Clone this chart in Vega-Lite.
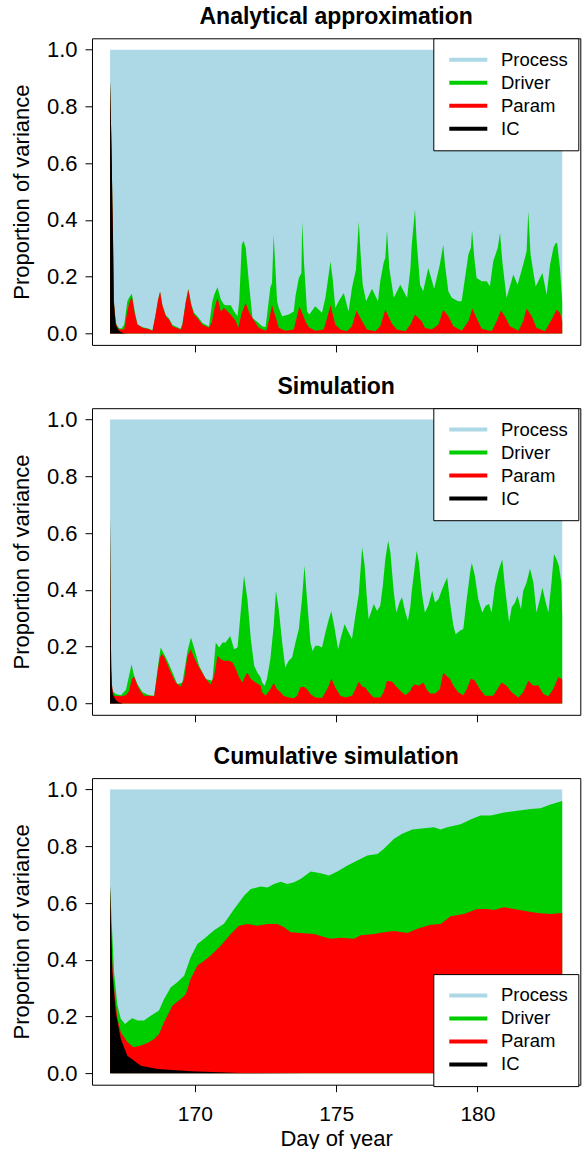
{
"$schema":"https://vega.github.io/schema/vega-lite/v6.json",
"padding":{"left":9,"top":5.3,"right":1,"bottom":1},
"background":"white",
"config":{
"font":"Liberation Sans",
"view":{"stroke":"black","strokeWidth":1},
"axis":{"domain":false,"grid":false,"tickColor":"black","tickSize":7,"tickWidth":1,"labelColor":"black","labelFont":"Liberation Sans","labelFontSize":22,"titleFont":"Liberation Sans","titleFontSize":22,"titleFontWeight":"normal","titleColor":"black"},
"title":{"font":"Liberation Sans","fontSize":23,"fontWeight":"bold","color":"black","anchor":"middle","frame":"group","baseline":"alphabetic","offset":9},
"legend":{"title":null,"orient":"none","symbolType":"stroke","symbolSize":1444,"symbolStrokeWidth":4,"clipHeight":22.7,"rowPadding":0,"padding":10,"symbolOffset":4,"labelOffset":11.7,"labelFont":"Liberation Sans","labelFontSize":18.5,"labelColor":"black","strokeColor":"black","fillColor":"white"}
},
"datasets":{
"p1":[
{"d":167,"s":"Process","v":1},{"d":183,"s":"Process","v":1},
{"d":167.00,"s":"Driver","v":0.89},{"d":167.03,"s":"Driver","v":0.75},{"d":167.06,"s":"Driver","v":0.60},{"d":167.08,"s":"Driver","v":0.46},{"d":167.10,"s":"Driver","v":0.37},{"d":167.13,"s":"Driver","v":0.12},{"d":167.20,"s":"Driver","v":0.038},{"d":167.30,"s":"Driver","v":0.020},{"d":167.40,"s":"Driver","v":0.017},{"d":167.50,"s":"Driver","v":0.032},{"d":167.61,"s":"Driver","v":0.114},{"d":167.67,"s":"Driver","v":0.126},{"d":167.77,"s":"Driver","v":0.140},{"d":167.87,"s":"Driver","v":0.080},{"d":167.97,"s":"Driver","v":0.032},{"d":168.15,"s":"Driver","v":0.022},{"d":168.35,"s":"Driver","v":0.018},{"d":168.50,"s":"Driver","v":0.012},{"d":168.60,"s":"Driver","v":0.060},{"d":168.70,"s":"Driver","v":0.120},{"d":168.77,"s":"Driver","v":0.147},{"d":168.85,"s":"Driver","v":0.100},{"d":168.97,"s":"Driver","v":0.065},{"d":169.09,"s":"Driver","v":0.052},{"d":169.21,"s":"Driver","v":0.030},{"d":169.50,"s":"Driver","v":0.017},{"d":169.56,"s":"Driver","v":0.035},{"d":169.68,"s":"Driver","v":0.115},{"d":169.77,"s":"Driver","v":0.158},{"d":169.87,"s":"Driver","v":0.105},{"d":169.97,"s":"Driver","v":0.073},{"d":170.09,"s":"Driver","v":0.061},{"d":170.27,"s":"Driver","v":0.037},{"d":170.50,"s":"Driver","v":0.025},{"d":170.62,"s":"Driver","v":0.114},{"d":170.70,"s":"Driver","v":0.140},{"d":170.80,"s":"Driver","v":0.163},{"d":170.92,"s":"Driver","v":0.120},{"d":171.03,"s":"Driver","v":0.102},{"d":171.09,"s":"Driver","v":0.100},{"d":171.27,"s":"Driver","v":0.100},{"d":171.39,"s":"Driver","v":0.078},{"d":171.51,"s":"Driver","v":0.061},{"d":171.57,"s":"Driver","v":0.114},{"d":171.66,"s":"Driver","v":0.313},{"d":171.72,"s":"Driver","v":0.327},{"d":171.80,"s":"Driver","v":0.302},{"d":171.92,"s":"Driver","v":0.172},{"d":172.04,"s":"Driver","v":0.055},{"d":172.26,"s":"Driver","v":0.037},{"d":172.38,"s":"Driver","v":0.026},{"d":172.50,"s":"Driver","v":0.022},{"d":172.55,"s":"Driver","v":0.061},{"d":172.67,"s":"Driver","v":0.161},{"d":172.73,"s":"Driver","v":0.178},{"d":172.79,"s":"Driver","v":0.348},{"d":172.85,"s":"Driver","v":0.231},{"d":172.91,"s":"Driver","v":0.114},{"d":172.97,"s":"Driver","v":0.090},{"d":173.09,"s":"Driver","v":0.061},{"d":173.32,"s":"Driver","v":0.067},{"d":173.50,"s":"Driver","v":0.078},{"d":173.56,"s":"Driver","v":0.131},{"d":173.68,"s":"Driver","v":0.196},{"d":173.77,"s":"Driver","v":0.213},{"d":173.80,"s":"Driver","v":0.395},{"d":173.86,"s":"Driver","v":0.254},{"d":173.97,"s":"Driver","v":0.078},{"d":174.05,"s":"Driver","v":0.067},{"d":174.26,"s":"Driver","v":0.096},{"d":174.50,"s":"Driver","v":0.073},{"d":174.62,"s":"Driver","v":0.126},{"d":174.71,"s":"Driver","v":0.190},{"d":174.80,"s":"Driver","v":0.254},{"d":174.88,"s":"Driver","v":0.190},{"d":174.97,"s":"Driver","v":0.090},{"d":175.09,"s":"Driver","v":0.114},{"d":175.27,"s":"Driver","v":0.143},{"d":175.44,"s":"Driver","v":0.078},{"d":175.56,"s":"Driver","v":0.161},{"d":175.70,"s":"Driver","v":0.225},{"d":175.80,"s":"Driver","v":0.395},{"d":175.86,"s":"Driver","v":0.290},{"d":175.94,"s":"Driver","v":0.172},{"d":176.06,"s":"Driver","v":0.114},{"d":176.27,"s":"Driver","v":0.158},{"d":176.48,"s":"Driver","v":0.114},{"d":176.56,"s":"Driver","v":0.184},{"d":176.68,"s":"Driver","v":0.249},{"d":176.74,"s":"Driver","v":0.266},{"d":176.80,"s":"Driver","v":0.363},{"d":176.88,"s":"Driver","v":0.231},{"d":177.04,"s":"Driver","v":0.126},{"d":177.27,"s":"Driver","v":0.172},{"d":177.51,"s":"Driver","v":0.126},{"d":177.63,"s":"Driver","v":0.231},{"d":177.67,"s":"Driver","v":0.307},{"d":177.79,"s":"Driver","v":0.437},{"d":177.85,"s":"Driver","v":0.325},{"d":177.97,"s":"Driver","v":0.172},{"d":178.08,"s":"Driver","v":0.149},{"d":178.26,"s":"Driver","v":0.231},{"d":178.47,"s":"Driver","v":0.158},{"d":178.67,"s":"Driver","v":0.243},{"d":178.79,"s":"Driver","v":0.313},{"d":178.85,"s":"Driver","v":0.243},{"d":178.97,"s":"Driver","v":0.149},{"d":179.09,"s":"Driver","v":0.126},{"d":179.32,"s":"Driver","v":0.114},{"d":179.44,"s":"Driver","v":0.114},{"d":179.56,"s":"Driver","v":0.196},{"d":179.68,"s":"Driver","v":0.278},{"d":179.77,"s":"Driver","v":0.302},{"d":179.81,"s":"Driver","v":0.363},{"d":179.89,"s":"Driver","v":0.266},{"d":179.97,"s":"Driver","v":0.196},{"d":180.15,"s":"Driver","v":0.184},{"d":180.33,"s":"Driver","v":0.184},{"d":180.44,"s":"Driver","v":0.167},{"d":180.56,"s":"Driver","v":0.255},{"d":180.72,"s":"Driver","v":0.302},{"d":180.80,"s":"Driver","v":0.354},{"d":180.88,"s":"Driver","v":0.255},{"d":181.03,"s":"Driver","v":0.125},{"d":181.27,"s":"Driver","v":0.208},{"d":181.42,"s":"Driver","v":0.172},{"d":181.62,"s":"Driver","v":0.243},{"d":181.74,"s":"Driver","v":0.290},{"d":181.80,"s":"Driver","v":0.431},{"d":181.88,"s":"Driver","v":0.278},{"d":182.06,"s":"Driver","v":0.166},{"d":182.30,"s":"Driver","v":0.213},{"d":182.45,"s":"Driver","v":0.137},{"d":182.57,"s":"Driver","v":0.243},{"d":182.69,"s":"Driver","v":0.302},{"d":182.77,"s":"Driver","v":0.319},{"d":182.82,"s":"Driver","v":0.319},{"d":182.92,"s":"Driver","v":0.231},{"d":183.00,"s":"Driver","v":0.114},
{"d":167.00,"s":"Param","v":0.89},{"d":167.03,"s":"Param","v":0.75},{"d":167.06,"s":"Param","v":0.60},{"d":167.08,"s":"Param","v":0.46},{"d":167.10,"s":"Param","v":0.37},{"d":167.13,"s":"Param","v":0.12},{"d":167.20,"s":"Param","v":0.035},{"d":167.30,"s":"Param","v":0.016},{"d":167.40,"s":"Param","v":0.014},{"d":167.50,"s":"Param","v":0.015},{"d":167.61,"s":"Param","v":0.078},{"d":167.67,"s":"Param","v":0.105},{"d":167.77,"s":"Param","v":0.131},{"d":167.87,"s":"Param","v":0.070},{"d":167.97,"s":"Param","v":0.032},{"d":168.15,"s":"Param","v":0.020},{"d":168.35,"s":"Param","v":0.016},{"d":168.50,"s":"Param","v":0.010},{"d":168.60,"s":"Param","v":0.060},{"d":168.70,"s":"Param","v":0.120},{"d":168.77,"s":"Param","v":0.147},{"d":168.85,"s":"Param","v":0.100},{"d":168.97,"s":"Param","v":0.061},{"d":169.09,"s":"Param","v":0.049},{"d":169.21,"s":"Param","v":0.026},{"d":169.50,"s":"Param","v":0.014},{"d":169.56,"s":"Param","v":0.030},{"d":169.68,"s":"Param","v":0.110},{"d":169.77,"s":"Param","v":0.155},{"d":169.87,"s":"Param","v":0.100},{"d":169.97,"s":"Param","v":0.067},{"d":170.09,"s":"Param","v":0.055},{"d":170.27,"s":"Param","v":0.031},{"d":170.50,"s":"Param","v":0.020},{"d":170.60,"s":"Param","v":0.040},{"d":170.70,"s":"Param","v":0.090},{"d":170.80,"s":"Param","v":0.126},{"d":170.92,"s":"Param","v":0.078},{"d":171.03,"s":"Param","v":0.090},{"d":171.09,"s":"Param","v":0.085},{"d":171.27,"s":"Param","v":0.067},{"d":171.45,"s":"Param","v":0.043},{"d":171.54,"s":"Param","v":0.020},{"d":171.65,"s":"Param","v":0.070},{"d":171.80,"s":"Param","v":0.108},{"d":171.92,"s":"Param","v":0.075},{"d":172.04,"s":"Param","v":0.055},{"d":172.26,"s":"Param","v":0.020},{"d":172.50,"s":"Param","v":0.010},{"d":172.55,"s":"Param","v":0.015},{"d":172.64,"s":"Param","v":0.055},{"d":172.73,"s":"Param","v":0.100},{"d":172.85,"s":"Param","v":0.061},{"d":172.97,"s":"Param","v":0.020},{"d":173.20,"s":"Param","v":0.010},{"d":173.50,"s":"Param","v":0.014},{"d":173.60,"s":"Param","v":0.055},{"d":173.70,"s":"Param","v":0.096},{"d":173.82,"s":"Param","v":0.067},{"d":173.91,"s":"Param","v":0.043},{"d":174.03,"s":"Param","v":0.022},{"d":174.26,"s":"Param","v":0.010},{"d":174.56,"s":"Param","v":0.014},{"d":174.68,"s":"Param","v":0.055},{"d":174.80,"s":"Param","v":0.100},{"d":174.97,"s":"Param","v":0.032},{"d":175.15,"s":"Param","v":0.014},{"d":175.38,"s":"Param","v":0.008},{"d":175.56,"s":"Param","v":0.026},{"d":175.72,"s":"Param","v":0.081},{"d":175.92,"s":"Param","v":0.043},{"d":176.09,"s":"Param","v":0.014},{"d":176.39,"s":"Param","v":0.008},{"d":176.56,"s":"Param","v":0.026},{"d":176.74,"s":"Param","v":0.084},{"d":176.98,"s":"Param","v":0.034},{"d":177.15,"s":"Param","v":0.014},{"d":177.45,"s":"Param","v":0.008},{"d":177.63,"s":"Param","v":0.032},{"d":177.79,"s":"Param","v":0.067},{"d":177.91,"s":"Param","v":0.055},{"d":178.03,"s":"Param","v":0.043},{"d":178.14,"s":"Param","v":0.020},{"d":178.38,"s":"Param","v":0.014},{"d":178.62,"s":"Param","v":0.032},{"d":178.79,"s":"Param","v":0.084},{"d":178.97,"s":"Param","v":0.061},{"d":179.15,"s":"Param","v":0.026},{"d":179.44,"s":"Param","v":0.010},{"d":179.68,"s":"Param","v":0.043},{"d":179.82,"s":"Param","v":0.088},{"d":179.97,"s":"Param","v":0.055},{"d":180.15,"s":"Param","v":0.017},{"d":180.50,"s":"Param","v":0.008},{"d":180.68,"s":"Param","v":0.043},{"d":180.83,"s":"Param","v":0.081},{"d":180.97,"s":"Param","v":0.061},{"d":181.15,"s":"Param","v":0.026},{"d":181.45,"s":"Param","v":0.010},{"d":181.62,"s":"Param","v":0.043},{"d":181.74,"s":"Param","v":0.088},{"d":181.92,"s":"Param","v":0.061},{"d":182.09,"s":"Param","v":0.020},{"d":182.39,"s":"Param","v":0.008},{"d":182.62,"s":"Param","v":0.049},{"d":182.80,"s":"Param","v":0.084},{"d":182.92,"s":"Param","v":0.073},{"d":183.00,"s":"Param","v":0.043},
{"d":167.00,"s":"IC","v":0.89},{"d":167.03,"s":"IC","v":0.75},{"d":167.06,"s":"IC","v":0.60},{"d":167.08,"s":"IC","v":0.46},{"d":167.10,"s":"IC","v":0.36},{"d":167.13,"s":"IC","v":0.11},{"d":167.20,"s":"IC","v":0.03},{"d":167.30,"s":"IC","v":0.012},{"d":167.40,"s":"IC","v":0.004},{"d":167.50,"s":"IC","v":0.001},{"d":167.60,"s":"IC","v":0},{"d":183.00,"s":"IC","v":0}
],
"p2":[
{"d":167,"s":"Process","v":1},{"d":183,"s":"Process","v":1},
{"d":167.00,"s":"Driver","v":0.65},{"d":167.02,"s":"Driver","v":0.30},{"d":167.04,"s":"Driver","v":0.14},{"d":167.06,"s":"Driver","v":0.08},{"d":167.08,"s":"Driver","v":0.045},{"d":167.20,"s":"Driver","v":0.033},{"d":167.38,"s":"Driver","v":0.029},{"d":167.56,"s":"Driver","v":0.047},{"d":167.67,"s":"Driver","v":0.097},{"d":167.76,"s":"Driver","v":0.138},{"d":167.85,"s":"Driver","v":0.097},{"d":167.97,"s":"Driver","v":0.068},{"d":168.15,"s":"Driver","v":0.039},{"d":168.38,"s":"Driver","v":0.029},{"d":168.56,"s":"Driver","v":0.027},{"d":168.68,"s":"Driver","v":0.121},{"d":168.79,"s":"Driver","v":0.197},{"d":168.91,"s":"Driver","v":0.174},{"d":169.03,"s":"Driver","v":0.150},{"d":169.21,"s":"Driver","v":0.109},{"d":169.38,"s":"Driver","v":0.068},{"d":169.56,"s":"Driver","v":0.074},{"d":169.74,"s":"Driver","v":0.185},{"d":169.86,"s":"Driver","v":0.232},{"d":169.97,"s":"Driver","v":0.197},{"d":170.15,"s":"Driver","v":0.133},{"d":170.39,"s":"Driver","v":0.086},{"d":170.62,"s":"Driver","v":0.080},{"d":170.74,"s":"Driver","v":0.215},{"d":170.86,"s":"Driver","v":0.197},{"d":170.98,"s":"Driver","v":0.215},{"d":171.09,"s":"Driver","v":0.215},{"d":171.25,"s":"Driver","v":0.238},{"d":171.39,"s":"Driver","v":0.191},{"d":171.51,"s":"Driver","v":0.197},{"d":171.62,"s":"Driver","v":0.320},{"d":171.74,"s":"Driver","v":0.450},{"d":171.86,"s":"Driver","v":0.368},{"d":171.98,"s":"Driver","v":0.227},{"d":172.10,"s":"Driver","v":0.133},{"d":172.21,"s":"Driver","v":0.109},{"d":172.33,"s":"Driver","v":0.091},{"d":172.38,"s":"Driver","v":0.074},{"d":172.47,"s":"Driver","v":0.062},{"d":172.55,"s":"Driver","v":0.086},{"d":172.67,"s":"Driver","v":0.156},{"d":172.79,"s":"Driver","v":0.273},{"d":172.87,"s":"Driver","v":0.397},{"d":172.97,"s":"Driver","v":0.332},{"d":173.09,"s":"Driver","v":0.215},{"d":173.20,"s":"Driver","v":0.127},{"d":173.32,"s":"Driver","v":0.150},{"d":173.44,"s":"Driver","v":0.162},{"d":173.56,"s":"Driver","v":0.215},{"d":173.68,"s":"Driver","v":0.262},{"d":173.79,"s":"Driver","v":0.367},{"d":173.88,"s":"Driver","v":0.485},{"d":173.97,"s":"Driver","v":0.367},{"d":174.09,"s":"Driver","v":0.215},{"d":174.17,"s":"Driver","v":0.185},{"d":174.26,"s":"Driver","v":0.203},{"d":174.38,"s":"Driver","v":0.203},{"d":174.50,"s":"Driver","v":0.197},{"d":174.62,"s":"Driver","v":0.250},{"d":174.74,"s":"Driver","v":0.297},{"d":174.83,"s":"Driver","v":0.326},{"d":174.95,"s":"Driver","v":0.262},{"d":175.07,"s":"Driver","v":0.191},{"d":175.18,"s":"Driver","v":0.238},{"d":175.30,"s":"Driver","v":0.279},{"d":175.44,"s":"Driver","v":0.250},{"d":175.56,"s":"Driver","v":0.227},{"d":175.68,"s":"Driver","v":0.309},{"d":175.80,"s":"Driver","v":0.385},{"d":175.92,"s":"Driver","v":0.549},{"d":176.01,"s":"Driver","v":0.485},{"d":176.09,"s":"Driver","v":0.367},{"d":176.15,"s":"Driver","v":0.297},{"d":176.27,"s":"Driver","v":0.332},{"d":176.33,"s":"Driver","v":0.350},{"d":176.45,"s":"Driver","v":0.326},{"d":176.56,"s":"Driver","v":0.344},{"d":176.65,"s":"Driver","v":0.414},{"d":176.74,"s":"Driver","v":0.508},{"d":176.84,"s":"Driver","v":0.573},{"d":176.92,"s":"Driver","v":0.532},{"d":177.04,"s":"Driver","v":0.391},{"d":177.13,"s":"Driver","v":0.320},{"d":177.24,"s":"Driver","v":0.356},{"d":177.33,"s":"Driver","v":0.374},{"d":177.45,"s":"Driver","v":0.320},{"d":177.54,"s":"Driver","v":0.291},{"d":177.63,"s":"Driver","v":0.344},{"d":177.67,"s":"Driver","v":0.391},{"d":177.77,"s":"Driver","v":0.473},{"d":177.85,"s":"Driver","v":0.538},{"d":177.93,"s":"Driver","v":0.496},{"d":178.03,"s":"Driver","v":0.391},{"d":178.14,"s":"Driver","v":0.320},{"d":178.26,"s":"Driver","v":0.344},{"d":178.32,"s":"Driver","v":0.367},{"d":178.40,"s":"Driver","v":0.397},{"d":178.50,"s":"Driver","v":0.356},{"d":178.62,"s":"Driver","v":0.367},{"d":178.73,"s":"Driver","v":0.397},{"d":178.85,"s":"Driver","v":0.426},{"d":178.93,"s":"Driver","v":0.444},{"d":179.03,"s":"Driver","v":0.356},{"d":179.15,"s":"Driver","v":0.273},{"d":179.23,"s":"Driver","v":0.244},{"d":179.38,"s":"Driver","v":0.256},{"d":179.50,"s":"Driver","v":0.262},{"d":179.62,"s":"Driver","v":0.367},{"d":179.74,"s":"Driver","v":0.461},{"d":179.80,"s":"Driver","v":0.496},{"d":179.91,"s":"Driver","v":0.450},{"d":180.03,"s":"Driver","v":0.367},{"d":180.17,"s":"Driver","v":0.320},{"d":180.29,"s":"Driver","v":0.344},{"d":180.41,"s":"Driver","v":0.350},{"d":180.50,"s":"Driver","v":0.320},{"d":180.62,"s":"Driver","v":0.414},{"d":180.76,"s":"Driver","v":0.473},{"d":180.88,"s":"Driver","v":0.508},{"d":180.97,"s":"Driver","v":0.414},{"d":181.12,"s":"Driver","v":0.285},{"d":181.21,"s":"Driver","v":0.338},{"d":181.33,"s":"Driver","v":0.356},{"d":181.42,"s":"Driver","v":0.379},{"d":181.54,"s":"Driver","v":0.332},{"d":181.62,"s":"Driver","v":0.397},{"d":181.74,"s":"Driver","v":0.426},{"d":181.86,"s":"Driver","v":0.475},{"d":181.98,"s":"Driver","v":0.426},{"d":182.09,"s":"Driver","v":0.320},{"d":182.21,"s":"Driver","v":0.367},{"d":182.30,"s":"Driver","v":0.408},{"d":182.39,"s":"Driver","v":0.367},{"d":182.51,"s":"Driver","v":0.320},{"d":182.62,"s":"Driver","v":0.426},{"d":182.71,"s":"Driver","v":0.526},{"d":182.80,"s":"Driver","v":0.508},{"d":182.88,"s":"Driver","v":0.485},{"d":182.97,"s":"Driver","v":0.426},{"d":183.00,"s":"Driver","v":0.309},
{"d":167.00,"s":"Param","v":0.65},{"d":167.02,"s":"Param","v":0.30},{"d":167.04,"s":"Param","v":0.12},{"d":167.06,"s":"Param","v":0.07},{"d":167.10,"s":"Param","v":0.040},{"d":167.14,"s":"Param","v":0.027},{"d":167.38,"s":"Param","v":0.025},{"d":167.56,"s":"Param","v":0.029},{"d":167.67,"s":"Param","v":0.044},{"d":167.77,"s":"Param","v":0.086},{"d":167.85,"s":"Param","v":0.095},{"d":167.97,"s":"Param","v":0.062},{"d":168.09,"s":"Param","v":0.041},{"d":168.20,"s":"Param","v":0.027},{"d":168.38,"s":"Param","v":0.027},{"d":168.56,"s":"Param","v":0.025},{"d":168.68,"s":"Param","v":0.109},{"d":168.76,"s":"Param","v":0.162},{"d":168.83,"s":"Param","v":0.174},{"d":168.91,"s":"Param","v":0.165},{"d":169.03,"s":"Param","v":0.138},{"d":169.15,"s":"Param","v":0.109},{"d":169.32,"s":"Param","v":0.074},{"d":169.50,"s":"Param","v":0.060},{"d":169.62,"s":"Param","v":0.086},{"d":169.74,"s":"Param","v":0.168},{"d":169.86,"s":"Param","v":0.191},{"d":169.97,"s":"Param","v":0.162},{"d":170.15,"s":"Param","v":0.127},{"d":170.39,"s":"Param","v":0.086},{"d":170.56,"s":"Param","v":0.068},{"d":170.68,"s":"Param","v":0.097},{"d":170.80,"s":"Param","v":0.168},{"d":170.92,"s":"Param","v":0.156},{"d":171.03,"s":"Param","v":0.150},{"d":171.21,"s":"Param","v":0.150},{"d":171.33,"s":"Param","v":0.144},{"d":171.45,"s":"Param","v":0.121},{"d":171.57,"s":"Param","v":0.091},{"d":171.68,"s":"Param","v":0.074},{"d":171.78,"s":"Param","v":0.097},{"d":171.86,"s":"Param","v":0.109},{"d":171.98,"s":"Param","v":0.086},{"d":172.15,"s":"Param","v":0.074},{"d":172.33,"s":"Param","v":0.062},{"d":172.38,"s":"Param","v":0.039},{"d":172.50,"s":"Param","v":0.027},{"d":172.67,"s":"Param","v":0.050},{"d":172.79,"s":"Param","v":0.072},{"d":172.91,"s":"Param","v":0.050},{"d":173.03,"s":"Param","v":0.039},{"d":173.14,"s":"Param","v":0.027},{"d":173.32,"s":"Param","v":0.021},{"d":173.50,"s":"Param","v":0.018},{"d":173.62,"s":"Param","v":0.027},{"d":173.73,"s":"Param","v":0.056},{"d":173.85,"s":"Param","v":0.060},{"d":173.97,"s":"Param","v":0.050},{"d":174.09,"s":"Param","v":0.033},{"d":174.26,"s":"Param","v":0.021},{"d":174.50,"s":"Param","v":0.019},{"d":174.62,"s":"Param","v":0.039},{"d":174.74,"s":"Param","v":0.062},{"d":174.83,"s":"Param","v":0.088},{"d":174.97,"s":"Param","v":0.056},{"d":175.15,"s":"Param","v":0.027},{"d":175.33,"s":"Param","v":0.021},{"d":175.56,"s":"Param","v":0.027},{"d":175.68,"s":"Param","v":0.050},{"d":175.80,"s":"Param","v":0.076},{"d":175.92,"s":"Param","v":0.060},{"d":176.03,"s":"Param","v":0.056},{"d":176.15,"s":"Param","v":0.039},{"d":176.33,"s":"Param","v":0.021},{"d":176.56,"s":"Param","v":0.021},{"d":176.68,"s":"Param","v":0.039},{"d":176.80,"s":"Param","v":0.080},{"d":176.98,"s":"Param","v":0.076},{"d":177.10,"s":"Param","v":0.062},{"d":177.27,"s":"Param","v":0.045},{"d":177.45,"s":"Param","v":0.029},{"d":177.63,"s":"Param","v":0.045},{"d":177.67,"s":"Param","v":0.056},{"d":177.79,"s":"Param","v":0.068},{"d":177.91,"s":"Param","v":0.062},{"d":178.09,"s":"Param","v":0.074},{"d":178.20,"s":"Param","v":0.050},{"d":178.32,"s":"Param","v":0.035},{"d":178.50,"s":"Param","v":0.035},{"d":178.67,"s":"Param","v":0.050},{"d":178.79,"s":"Param","v":0.109},{"d":178.91,"s":"Param","v":0.097},{"d":179.03,"s":"Param","v":0.086},{"d":179.15,"s":"Param","v":0.062},{"d":179.32,"s":"Param","v":0.039},{"d":179.50,"s":"Param","v":0.029},{"d":179.62,"s":"Param","v":0.050},{"d":179.77,"s":"Param","v":0.088},{"d":179.91,"s":"Param","v":0.080},{"d":180.09,"s":"Param","v":0.050},{"d":180.27,"s":"Param","v":0.027},{"d":180.56,"s":"Param","v":0.027},{"d":180.74,"s":"Param","v":0.056},{"d":180.86,"s":"Param","v":0.074},{"d":181.03,"s":"Param","v":0.062},{"d":181.21,"s":"Param","v":0.039},{"d":181.45,"s":"Param","v":0.021},{"d":181.62,"s":"Param","v":0.039},{"d":181.80,"s":"Param","v":0.080},{"d":181.98,"s":"Param","v":0.062},{"d":182.15,"s":"Param","v":0.064},{"d":182.33,"s":"Param","v":0.033},{"d":182.51,"s":"Param","v":0.025},{"d":182.68,"s":"Param","v":0.050},{"d":182.86,"s":"Param","v":0.092},{"d":183.00,"s":"Param","v":0.086},
{"d":167.00,"s":"IC","v":0.65},{"d":167.02,"s":"IC","v":0.30},{"d":167.04,"s":"IC","v":0.12},{"d":167.06,"s":"IC","v":0.06},{"d":167.10,"s":"IC","v":0.03},{"d":167.20,"s":"IC","v":0.012},{"d":167.30,"s":"IC","v":0.004},{"d":167.45,"s":"IC","v":0},{"d":183.00,"s":"IC","v":0}
],
"p3":[
{"d":167,"s":"Process","v":1},{"d":183,"s":"Process","v":1},
{"d":167.00,"s":"Driver","v":0.661},{"d":167.14,"s":"Driver","v":0.356},{"d":167.26,"s":"Driver","v":0.239},{"d":167.38,"s":"Driver","v":0.192},{"d":167.53,"s":"Driver","v":0.174},{"d":167.67,"s":"Driver","v":0.186},{"d":167.79,"s":"Driver","v":0.194},{"d":167.97,"s":"Driver","v":0.186},{"d":168.20,"s":"Driver","v":0.186},{"d":168.44,"s":"Driver","v":0.203},{"d":168.73,"s":"Driver","v":0.221},{"d":168.91,"s":"Driver","v":0.262},{"d":169.15,"s":"Driver","v":0.303},{"d":169.38,"s":"Driver","v":0.321},{"d":169.62,"s":"Driver","v":0.344},{"d":169.85,"s":"Driver","v":0.409},{"d":170.09,"s":"Driver","v":0.456},{"d":170.33,"s":"Driver","v":0.474},{"d":170.68,"s":"Driver","v":0.504},{"d":171.03,"s":"Driver","v":0.527},{"d":171.39,"s":"Driver","v":0.579},{"d":171.74,"s":"Driver","v":0.626},{"d":171.98,"s":"Driver","v":0.649},{"d":172.33,"s":"Driver","v":0.658},{"d":172.57,"s":"Driver","v":0.655},{"d":172.80,"s":"Driver","v":0.667},{"d":173.04,"s":"Driver","v":0.675},{"d":173.27,"s":"Driver","v":0.667},{"d":173.51,"s":"Driver","v":0.673},{"d":173.74,"s":"Driver","v":0.685},{"d":174.10,"s":"Driver","v":0.711},{"d":174.45,"s":"Driver","v":0.705},{"d":174.75,"s":"Driver","v":0.697},{"d":175.04,"s":"Driver","v":0.711},{"d":175.40,"s":"Driver","v":0.732},{"d":175.75,"s":"Driver","v":0.750},{"d":176.10,"s":"Driver","v":0.767},{"d":176.46,"s":"Driver","v":0.773},{"d":176.69,"s":"Driver","v":0.791},{"d":177.05,"s":"Driver","v":0.826},{"d":177.34,"s":"Driver","v":0.844},{"d":177.70,"s":"Driver","v":0.859},{"d":178.11,"s":"Driver","v":0.863},{"d":178.46,"s":"Driver","v":0.867},{"d":178.70,"s":"Driver","v":0.859},{"d":178.93,"s":"Driver","v":0.867},{"d":179.40,"s":"Driver","v":0.877},{"d":179.76,"s":"Driver","v":0.894},{"d":180.11,"s":"Driver","v":0.908},{"d":180.47,"s":"Driver","v":0.908},{"d":180.94,"s":"Driver","v":0.919},{"d":181.41,"s":"Driver","v":0.925},{"d":181.88,"s":"Driver","v":0.931},{"d":182.23,"s":"Driver","v":0.934},{"d":182.59,"s":"Driver","v":0.947},{"d":183.00,"s":"Driver","v":0.959},
{"d":167.00,"s":"Param","v":0.661},{"d":167.04,"s":"Param","v":0.50},{"d":167.08,"s":"Param","v":0.38},{"d":167.14,"s":"Param","v":0.30},{"d":167.26,"s":"Param","v":0.192},{"d":167.38,"s":"Param","v":0.145},{"d":167.61,"s":"Param","v":0.110},{"d":167.83,"s":"Param","v":0.092},{"d":168.09,"s":"Param","v":0.098},{"d":168.32,"s":"Param","v":0.107},{"d":168.56,"s":"Param","v":0.121},{"d":168.73,"s":"Param","v":0.139},{"d":168.91,"s":"Param","v":0.180},{"d":169.21,"s":"Param","v":0.239},{"d":169.50,"s":"Param","v":0.262},{"d":169.68,"s":"Param","v":0.279},{"d":169.85,"s":"Param","v":0.332},{"d":170.09,"s":"Param","v":0.380},{"d":170.33,"s":"Param","v":0.397},{"d":170.56,"s":"Param","v":0.415},{"d":170.92,"s":"Param","v":0.450},{"d":171.27,"s":"Param","v":0.491},{"d":171.56,"s":"Param","v":0.520},{"d":171.86,"s":"Param","v":0.526},{"d":172.21,"s":"Param","v":0.520},{"d":172.57,"s":"Param","v":0.526},{"d":172.92,"s":"Param","v":0.526},{"d":173.16,"s":"Param","v":0.515},{"d":173.39,"s":"Param","v":0.497},{"d":173.74,"s":"Param","v":0.494},{"d":174.22,"s":"Param","v":0.491},{"d":174.57,"s":"Param","v":0.480},{"d":174.81,"s":"Param","v":0.474},{"d":175.16,"s":"Param","v":0.478},{"d":175.63,"s":"Param","v":0.474},{"d":175.87,"s":"Param","v":0.486},{"d":176.34,"s":"Param","v":0.491},{"d":176.69,"s":"Param","v":0.497},{"d":177.05,"s":"Param","v":0.501},{"d":177.52,"s":"Param","v":0.494},{"d":177.87,"s":"Param","v":0.509},{"d":178.34,"s":"Param","v":0.523},{"d":178.70,"s":"Param","v":0.526},{"d":179.05,"s":"Param","v":0.553},{"d":179.52,"s":"Param","v":0.561},{"d":179.99,"s":"Param","v":0.579},{"d":180.35,"s":"Param","v":0.579},{"d":180.58,"s":"Param","v":0.575},{"d":180.94,"s":"Param","v":0.585},{"d":181.29,"s":"Param","v":0.579},{"d":181.64,"s":"Param","v":0.573},{"d":182.12,"s":"Param","v":0.565},{"d":182.59,"s":"Param","v":0.561},{"d":183.00,"s":"Param","v":0.565},
{"d":167.00,"s":"IC","v":0.661},{"d":167.04,"s":"IC","v":0.50},{"d":167.08,"s":"IC","v":0.356},{"d":167.20,"s":"IC","v":0.215},{"d":167.38,"s":"IC","v":0.121},{"d":167.61,"s":"IC","v":0.062},{"d":168.09,"s":"IC","v":0.027},{"d":168.68,"s":"IC","v":0.015},{"d":169.86,"s":"IC","v":0.007},{"d":171.63,"s":"IC","v":0.001},{"d":174.00,"s":"IC","v":0},{"d":183.00,"s":"IC","v":0}
]
},
"bounds":"flush",
"spacing":62.9,
"resolve":{"legend":{"color":"independent"}},
"vconcat":[
{"width":488.3,"height":306.6,"title":"Analytical approximation","data":{"name":"p1"},
"encoding":{
"x":{"field":"d","type":"quantitative","scale":{"domain":[166.36,183.64],"nice":false,"zero":false},"axis":{"values":[170,175,180],"labels":false,"title":null}},
"y":{"field":"v","type":"quantitative","stack":null,"scale":{"domain":[-0.04,1.04],"nice":false,"zero":false},"axis":{"values":[0,0.2,0.4,0.6,0.8,1],"format":".1f","labelPadding":8,"title":"Proportion of variance","titlePadding":13.2}},
"y2":{"datum":0},
"color":{"field":"s","type":"nominal","scale":{"domain":["Process","Driver","Param","IC"],"range":["#ADD8E6","#00CD00","#FF0000","#000000"]},"legend":{"legendX":341.3,"legendY":0,"encode":{"symbols":{"update":{"stroke":{"scale":"color","field":"value"}}}}}}
},
"layer":[
{"transform":[{"filter":"datum.s==='Process'"}],"mark":"area"},
{"transform":[{"filter":"datum.s==='Driver'"}],"mark":"area"},
{"transform":[{"filter":"datum.s==='Param'"}],"mark":"area"},
{"transform":[{"filter":"datum.s==='IC'"}],"mark":"area"}
]},
{"width":488.3,"height":306.6,"title":"Simulation","data":{"name":"p2"},
"encoding":{
"x":{"field":"d","type":"quantitative","scale":{"domain":[166.36,183.64],"nice":false,"zero":false},"axis":{"values":[170,175,180],"labels":false,"title":null}},
"y":{"field":"v","type":"quantitative","stack":null,"scale":{"domain":[-0.04,1.04],"nice":false,"zero":false},"axis":{"values":[0,0.2,0.4,0.6,0.8,1],"format":".1f","labelPadding":8,"title":"Proportion of variance","titlePadding":13.2}},
"y2":{"datum":0},
"color":{"field":"s","type":"nominal","scale":{"domain":["Process","Driver","Param","IC"],"range":["#ADD8E6","#00CD00","#FF0000","#000000"]},"legend":{"legendX":341.3,"legendY":0,"encode":{"symbols":{"update":{"stroke":{"scale":"color","field":"value"}}}}}}
},
"layer":[
{"transform":[{"filter":"datum.s==='Process'"}],"mark":"area"},
{"transform":[{"filter":"datum.s==='Driver'"}],"mark":"area"},
{"transform":[{"filter":"datum.s==='Param'"}],"mark":"area"},
{"transform":[{"filter":"datum.s==='IC'"}],"mark":"area"}
]},
{"width":488.3,"height":306.6,"title":"Cumulative simulation","data":{"name":"p3"},
"encoding":{
"x":{"field":"d","type":"quantitative","scale":{"domain":[166.36,183.64],"nice":false,"zero":false},"axis":{"values":[170,175,180],"labelFontSize":21,"labelPadding":12,"title":"Day of year","titlePadding":4}},
"y":{"field":"v","type":"quantitative","stack":null,"scale":{"domain":[-0.04,1.04],"nice":false,"zero":false},"axis":{"values":[0,0.2,0.4,0.6,0.8,1],"format":".1f","labelPadding":8,"title":"Proportion of variance","titlePadding":13.2}},
"y2":{"datum":0},
"color":{"field":"s","type":"nominal","scale":{"domain":["Process","Driver","Param","IC"],"range":["#ADD8E6","#00CD00","#FF0000","#000000"]},"legend":{"legendX":341.3,"legendY":196,"encode":{"symbols":{"update":{"stroke":{"scale":"color","field":"value"}}}}}}
},
"layer":[
{"transform":[{"filter":"datum.s==='Process'"}],"mark":"area"},
{"transform":[{"filter":"datum.s==='Driver'"}],"mark":"area"},
{"transform":[{"filter":"datum.s==='Param'"}],"mark":"area"},
{"transform":[{"filter":"datum.s==='IC'"}],"mark":"area"}
]}
]
}
